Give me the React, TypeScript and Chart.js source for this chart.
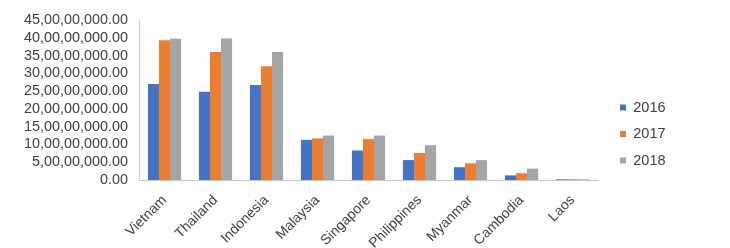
import React, { useEffect, useRef } from "react";
import { Chart, registerables } from "chart.js";

Chart.register(...registerables);

const categories = ["Vietnam", "Thailand", "Indonesia", "Malaysia", "Singapore", "Philippines", "Myanmar", "Cambodia", "Laos"];
const seriesLabels = ["2016", "2017", "2018"];
const values2016 = [270000000, 248000000, 267000000, 113000000, 83000000, 56000000, 36000000, 13000000, 2000000];
const values2017 = [393000000, 360000000, 320000000, 117000000, 115000000, 76000000, 47000000, 19000000, 2000000];
const values2018 = [397000000, 398000000, 360000000, 125000000, 125000000, 98000000, 56000000, 32000000, 2000000];
const colors = ["#4472C4", "#ED7D31", "#A5A5A5"];

function formatIndian(v: number): string {
  const n = Math.round(v);
  const s = String(n);
  let out: string;
  if (s.length <= 3) {
    out = s;
  } else {
    const last3 = s.slice(-3);
    let rest = s.slice(0, -3);
    const parts: string[] = [];
    while (rest.length > 2) {
      parts.unshift(rest.slice(-2));
      rest = rest.slice(0, -2);
    }
    if (rest.length) parts.unshift(rest);
    out = parts.join(",") + "," + last3;
  }
  return out + ".00";
}

const legendShift = {
  id: "legendShift",
  afterLayout(chart: any) {
    const lg = chart.legend;
    if (!lg) return;
    lg.left += 10;
    lg.right += 10;
  },
};

export default function App() {
  const ref = useRef<HTMLCanvasElement | null>(null);
  useEffect(() => {
    if (!ref.current) return;
    const chart = new Chart(ref.current, {
      type: "bar",
      data: {
        labels: categories,
        datasets: [values2016, values2017, values2018].map((d, i) => ({
          label: seriesLabels[i],
          data: d,
          backgroundColor: colors[i],
          borderWidth: 0,
          categoryPercentage: 0.65,
          barPercentage: 1.0,
        })),
      },
      plugins: [legendShift],
      options: {
        animation: false,
        responsive: false,
        maintainAspectRatio: false,
        layout: { padding: { left: 20, right: 70, top: 20, bottom: 0 } },
        plugins: {
          tooltip: { enabled: false },
          legend: {
            position: "right",
            maxWidth: 62,
            labels: {
              boxWidth: 6,
              boxHeight: 6,
              padding: 12,
              color: "#404040",
              font: { family: "Liberation Sans, Arial, sans-serif", size: 14.5 },
            },
          },
        },
        scales: {
          y: {
            min: 0,
            max: 450000000,
            border: { display: true, color: "#d0d0d0" },
            grid: { display: false, drawTicks: false },
            ticks: {
              stepSize: 50000000,
              autoSkip: false,
              padding: 11,
              color: "#404040",
              font: { family: "Liberation Sans, Arial, sans-serif", size: 14.4 },
              callback: (v: any) => formatIndian(Number(v)),
            },
            afterFit: (s: any) => {
              s.width = 119;
            },
          },
          x: {
            border: { display: true, color: "#c8c8c8" },
            grid: { display: false, drawTicks: false },
            ticks: {
              minRotation: 45,
              maxRotation: 45,
              autoSkip: false,
              padding: 12,
              color: "#404040",
              font: { family: "Liberation Sans, Arial, sans-serif", size: 14 },
            },
            afterFit: (s: any) => {
              s.height = 68;
            },
          },
        },
      },
    });
    return () => chart.destroy();
  }, []);
  return (
    <div style={{ position: "fixed", left: 0, top: 0, width: 730, height: 248, background: "#fff" }}>
      <canvas ref={ref} width={730} height={248} style={{ width: 730, height: 248 }} />
    </div>
  );
}
